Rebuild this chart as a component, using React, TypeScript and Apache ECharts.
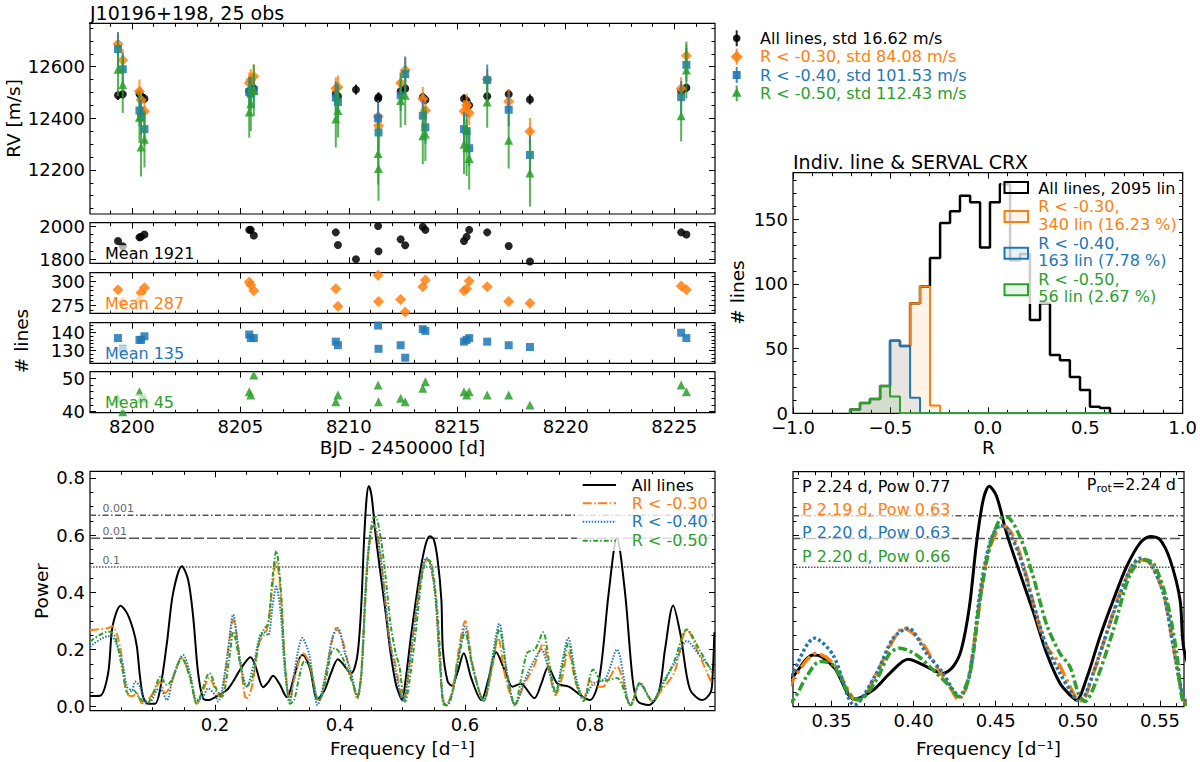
import React, { useEffect, useRef } from 'react';
import * as echarts from 'echarts';

const FONT = 'DejaVu Sans';
const C_ALL = '#000000';
const C_R30 = '#ff7f0e';
const C_R40 = '#1f77b4';
const C_R50 = '#2ca02c';
const GROUP_COLORS = [C_ALL, C_R30, C_R40, C_R50];

// ---------------- Data ----------------
const titleText = 'J10196+198, 25 obs';
const obsBJD = [8199.36, 8199.58, 8200.35, 8200.42, 8200.58, 8205.41, 8205.48, 8205.62, 8209.40, 8209.50, 8210.33, 8211.35, 8211.37, 8212.39, 8212.60, 8213.41, 8213.53, 8215.31, 8215.43, 8215.55, 8216.38, 8217.37, 8218.35, 8225.32, 8225.56];

const rvAll = [12489, 12493, 12495, 12485, 12476, 12505, 12510, 12515, 12495, 12485, 12511, 12476, 12482, 12505, 12515, 12482, 12472, 12476, 12468, 12450, 12485, 12493, 12473, 12505, 12518];
const rvAllErr = [18, 17, 18, 17, 18, 16, 17, 18, 17, 18, 20, 18, 19, 17, 18, 17, 18, 17, 18, 19, 17, 18, 20, 18, 17];
const rvR30 = [12688, 12625, 12505, 12472, 12427, 12537, 12548, 12563, 12515, 12520, null, 12407, 12371, 12537, 12587, 12476, 12430, 12427, 12450, 12420, 12550, 12465, 12349, 12515, 12642];
const rvR30Err = [45, 42, 45, 48, 44, 40, 42, 45, 44, 46, 0, 48, 50, 44, 47, 45, 46, 44, 45, 47, 42, 46, 52, 44, 46];
const rvR40 = [12668, 12590, 12430, 12404, 12358, 12502, 12495, 12508, 12480, 12463, null, 12400, 12345, 12489, 12571, 12410, 12365, 12358, 12350, 12284, 12548, 12433, 12258, 12482, 12607];
const rvR40Err = [65, 62, 60, 68, 64, 58, 60, 62, 62, 64, 0, 70, 72, 60, 68, 62, 64, 65, 66, 70, 60, 64, 75, 62, 65];
const rvR50 = [12590, 12530, 12404, 12289, 12319, 12424, 12456, 12508, 12397, 12430, null, 12263, 12205, 12469, 12489, 12332, 12339, 12299, 12286, 12244, 12463, 12315, 12188, 12410, 12587];
const rvR50Err = [105, 110, 100, 115, 110, 100, 105, 100, 110, 105, 0, 120, 125, 105, 115, 110, 105, 115, 110, 120, 100, 110, 130, 100, 110];
const rvLegendLabels = ['All lines, std 16.62 m/s', 'R < -0.30, std 84.08 m/s', 'R < -0.40, std 101.53 m/s', 'R < -0.50, std 112.43 m/s'];

const nLinesAll = [1910, 1878, 1932, 1935, 1949, 1977, 1977, 1943, 1962, 1886, 1800, 2000, 1848, 1920, 1884, 1996, 1977, 1910, 1935, 1977, 1962, 1880, 1787, 1962, 1949];
const nLinesR30 = [291, 278, 280, 288, 293, 299, 296, 290, 292, 274, null, 306, 279, 281, 268, 294, 301, 290, 292, 300, 294, 279, 277, 295, 291];
const nLinesR40 = [137, 131, 136, 136, 138, 139, 137, 137, 135, 133, null, 144, 131, 133, 126, 142, 141, 135, 136, 137, 135, 133, 132, 140, 137];
const nLinesR50 = [44, 40, 46, 44, 44, 46, 45, 51, 43, 45, null, 48, 43, 44, 43, 47, 49, 46, 45, 46, 45, 45, 42, 48, 46];
const meanLabels = ['Mean 1921', 'Mean 287', 'Mean 135', 'Mean 45'];

const histEdges = [-0.707, -0.656, -0.605, -0.553, -0.502, -0.451, -0.399, -0.348, -0.297, -0.245, -0.194, -0.143, -0.091, -0.040, 0.011, 0.062, 0.114, 0.165, 0.216, 0.268, 0.319, 0.370, 0.421, 0.473, 0.524, 0.575, 0.627];
const histAll = [3, 8, 11, 21, 56, 52, 85, 98, 120, 147, 156, 168, 163, 128, 163, 177, 118, 123, 72, 85, 45, 41, 28, 18, 5, 4];
const histR30 = [3, 8, 11, 21, 56, 52, 85, 98, 6, 0, 0, 0, 0, 0, 0, 0, 0, 0, 0, 0, 0, 0, 0, 0, 0, 0];
const histR40 = [3, 8, 11, 21, 56, 52, 12, 0, 0, 0, 0, 0, 0, 0, 0, 0, 0, 0, 0, 0, 0, 0, 0, 0, 0, 0];
const histR50 = [3, 8, 11, 21, 13, 0, 0, 0, 0, 0, 0, 0, 0, 0, 0, 0, 0, 0, 0, 0, 0, 0, 0, 0, 0, 0];
const histTitle = 'Indiv. line & SERVAL CRX';
const histLegendLabels = ['All lines, 2095 lin', 'R < -0.30,\n340 lin (16.23 %)', 'R < -0.40,\n163 lin (7.78 %)', 'R < -0.50,\n56 lin (2.67 %)'];

const periodAll: [number, number][] = [[0.000, 0.037], [0.016, 0.038], [0.029, 0.117], [0.036, 0.28], [0.049, 0.353], [0.059, 0.328], [0.069, 0.27], [0.075, 0.21], [0.080, 0.105], [0.085, 0.035], [0.093, 0.010], [0.104, 0.010], [0.112, 0.058], [0.123, 0.222], [0.133, 0.398], [0.147, 0.491], [0.157, 0.444], [0.165, 0.316], [0.173, 0.117], [0.181, 0.029], [0.189, 0.023], [0.203, 0.037], [0.219, 0.058], [0.229, 0.088], [0.240, 0.129], [0.257, 0.173], [0.265, 0.140], [0.277, 0.068], [0.285, 0.085], [0.293, 0.108], [0.303, 0.080], [0.315, 0.033], [0.3266, 0.105], [0.3388, 0.181], [0.344, 0.175], [0.352, 0.134], [0.364, 0.026], [0.3754, 0.058], [0.3855, 0.117], [0.3967, 0.166], [0.4038, 0.152], [0.414, 0.123], [0.418, 0.117], [0.424, 0.14], [0.429, 0.199], [0.434, 0.351], [0.4383, 0.573], [0.4424, 0.725], [0.446, 0.772], [0.4505, 0.737], [0.4566, 0.608], [0.4647, 0.468], [0.4728, 0.333], [0.481, 0.187], [0.4891, 0.082], [0.4952, 0.041], [0.4992, 0.023], [0.5053, 0.099], [0.5135, 0.246], [0.5216, 0.374], [0.5297, 0.491], [0.5378, 0.573], [0.5439, 0.596], [0.55, 0.585], [0.5561, 0.515], [0.5622, 0.374], [0.5646, 0.2], [0.572, 0.09], [0.579, 0.073], [0.588, 0.12], [0.598, 0.187], [0.61, 0.1], [0.626, 0.023], [0.638, 0.1], [0.65, 0.19], [0.663, 0.13], [0.676, 0.07], [0.689, 0.08], [0.711, 0.03], [0.722, 0.08], [0.733, 0.138], [0.748, 0.08], [0.766, 0.07], [0.788, 0.035], [0.8, 0.023], [0.815, 0.1], [0.83, 0.4], [0.843, 0.59], [0.856, 0.4], [0.868, 0.1], [0.876, 0.02], [0.894, 0.006], [0.91, 0.05], [0.92, 0.2], [0.933, 0.354], [0.945, 0.25], [0.96, 0.06], [0.98, 0.023], [0.993, 0.05], [0.996, 0.1], [0.999, 0.26]];

const periodR30: [number, number][] = [[0.0, 0.267], [0.029, 0.275], [0.036, 0.281], [0.048, 0.21], [0.056, 0.07], [0.061, 0.041], [0.068, 0.037], [0.075, 0.047], [0.083, 0.012], [0.091, 0.018], [0.104, 0.058], [0.112, 0.088], [0.12, 0.047], [0.128, 0.07], [0.147, 0.17], [0.16, 0.105], [0.171, 0.008], [0.181, 0.058], [0.191, 0.1], [0.203, 0.047], [0.208, 0.035], [0.224, 0.246], [0.229, 0.304], [0.24, 0.164], [0.248, 0.035], [0.252, 0.03], [0.26, 0.08], [0.27, 0.22], [0.283, 0.27], [0.291, 0.4], [0.298, 0.51], [0.305, 0.4], [0.312, 0.15], [0.32, 0.02], [0.3266, 0.094], [0.3409, 0.187], [0.351, 0.152], [0.3632, 0.029], [0.3673, 0.023], [0.3774, 0.117], [0.3876, 0.234], [0.3937, 0.275], [0.4038, 0.234], [0.414, 0.14], [0.4221, 0.07], [0.4272, 0.026], [0.4322, 0.07], [0.4383, 0.281], [0.4444, 0.515], [0.4515, 0.626], [0.4546, 0.634], [0.4607, 0.596], [0.4688, 0.456], [0.4749, 0.316], [0.481, 0.211], [0.4871, 0.164], [0.4932, 0.094], [0.4992, 0.029], [0.5023, 0.021], [0.5094, 0.117], [0.5175, 0.257], [0.5256, 0.398], [0.5338, 0.497], [0.5378, 0.515], [0.5439, 0.503], [0.552, 0.398], [0.5581, 0.211], [0.5646, 0.023], [0.57, 0.005], [0.58, 0.06], [0.59, 0.2], [0.6, 0.3], [0.612, 0.15], [0.63, 0.02], [0.642, 0.12], [0.653, 0.24], [0.665, 0.1], [0.68, 0.01], [0.695, 0.08], [0.71, 0.14], [0.725, 0.22], [0.735, 0.12], [0.745, 0.04], [0.755, 0.1], [0.765, 0.19], [0.778, 0.08], [0.79, 0.03], [0.8, 0.09], [0.812, 0.07], [0.82, 0.07], [0.843, 0.14], [0.865, 0.005], [0.88, 0.08], [0.9, 0.02], [0.915, 0.06], [0.935, 0.12], [0.955, 0.27], [0.975, 0.18], [0.995, 0.08]];

const periodR40: [number, number][] = [[0.0, 0.21], [0.029, 0.246], [0.035, 0.245], [0.051, 0.164], [0.059, 0.07], [0.067, 0.058], [0.072, 0.088], [0.08, 0.07], [0.088, 0.018], [0.096, 0.018], [0.107, 0.058], [0.112, 0.064], [0.123, 0.023], [0.133, 0.105], [0.149, 0.181], [0.16, 0.117], [0.171, 0.023], [0.181, 0.035], [0.189, 0.064], [0.2, 0.041], [0.205, 0.018], [0.219, 0.164], [0.229, 0.322], [0.24, 0.164], [0.251, 0.07], [0.262, 0.15], [0.272, 0.25], [0.278, 0.26], [0.285, 0.25], [0.292, 0.35], [0.298, 0.42], [0.305, 0.33], [0.312, 0.12], [0.32, 0.02], [0.3266, 0.117], [0.3398, 0.24], [0.351, 0.181], [0.364, 0.006], [0.3774, 0.117], [0.3876, 0.24], [0.3967, 0.275], [0.4079, 0.187], [0.418, 0.117], [0.4241, 0.058], [0.4282, 0.035], [0.4343, 0.117], [0.4404, 0.398], [0.4464, 0.573], [0.4525, 0.634], [0.4566, 0.626], [0.4647, 0.526], [0.4728, 0.363], [0.481, 0.211], [0.4891, 0.117], [0.4952, 0.058], [0.5003, 0.021], [0.5033, 0.026], [0.5114, 0.152], [0.5216, 0.327], [0.5317, 0.48], [0.5378, 0.52], [0.5439, 0.503], [0.552, 0.398], [0.5581, 0.211], [0.5646, 0.029], [0.57, 0.005], [0.58, 0.05], [0.59, 0.18], [0.6, 0.28], [0.612, 0.14], [0.63, 0.02], [0.642, 0.15], [0.655, 0.29], [0.667, 0.12], [0.68, 0.005], [0.695, 0.09], [0.71, 0.16], [0.722, 0.2], [0.735, 0.12], [0.745, 0.05], [0.755, 0.15], [0.765, 0.24], [0.778, 0.1], [0.79, 0.03], [0.805, 0.08], [0.825, 0.1], [0.843, 0.2], [0.865, 0.005], [0.88, 0.08], [0.9, 0.02], [0.915, 0.08], [0.935, 0.15], [0.955, 0.23], [0.975, 0.18], [0.995, 0.13]];

const periodR50: [number, number][] = [[0.0, 0.228], [0.03, 0.263], [0.04, 0.245], [0.053, 0.117], [0.061, 0.047], [0.069, 0.058], [0.08, 0.029], [0.091, 0.01], [0.101, 0.047], [0.113, 0.105], [0.123, 0.076], [0.131, 0.094], [0.147, 0.17], [0.16, 0.1], [0.171, 0.01], [0.177, 0.04], [0.191, 0.117], [0.203, 0.058], [0.211, 0.035], [0.224, 0.187], [0.229, 0.263], [0.24, 0.152], [0.25, 0.07], [0.26, 0.1], [0.27, 0.22], [0.278, 0.27], [0.285, 0.29], [0.292, 0.45], [0.298, 0.545], [0.305, 0.42], [0.312, 0.15], [0.32, 0.01], [0.3266, 0.023], [0.3348, 0.105], [0.3429, 0.158], [0.351, 0.146], [0.3632, 0.029], [0.3673, 0.026], [0.3774, 0.094], [0.3855, 0.187], [0.3916, 0.205], [0.4018, 0.181], [0.414, 0.117], [0.4221, 0.07], [0.4272, 0.035], [0.4343, 0.117], [0.4404, 0.374], [0.4464, 0.561], [0.4525, 0.657], [0.4566, 0.664], [0.4647, 0.596], [0.4728, 0.456], [0.481, 0.287], [0.4891, 0.187], [0.4952, 0.14], [0.5003, 0.047], [0.5043, 0.018], [0.5114, 0.094], [0.5216, 0.269], [0.5317, 0.462], [0.5399, 0.515], [0.546, 0.503], [0.5541, 0.374], [0.5602, 0.187], [0.5646, 0.012], [0.572, 0.005], [0.58, 0.05], [0.59, 0.17], [0.6, 0.26], [0.612, 0.14], [0.63, 0.02], [0.642, 0.13], [0.655, 0.27], [0.667, 0.12], [0.68, 0.005], [0.69, 0.1], [0.7, 0.19], [0.712, 0.2], [0.725, 0.26], [0.735, 0.15], [0.745, 0.05], [0.755, 0.13], [0.765, 0.22], [0.778, 0.08], [0.79, 0.02], [0.805, 0.13], [0.82, 0.09], [0.843, 0.1], [0.865, 0.005], [0.88, 0.085], [0.9, 0.02], [0.915, 0.07], [0.935, 0.16], [0.955, 0.27], [0.975, 0.2], [0.995, 0.12]];

const periodLegendLabels = ['All lines', 'R < -0.30', 'R < -0.40', 'R < -0.50'];
const fapLevels = [0.669, 0.589, 0.488];
const fapLabels = ['0.001', '0.01', '0.1'];
const peakLabels = ['P 2.24 d, Pow 0.77', 'P 2.19 d, Pow 0.63', 'P 2.20 d, Pow 0.63', 'P 2.20 d, Pow 0.66'];
const protValue = '=2.24 d';

// ---------------- Helpers ----------------
const range = (a: number, b: number, step: number) => {
  const out: number[] = [];
  for (let k = 0; a + k * step <= b + 1e-9; k++) out.push(Math.round((a + k * step) * 1e6) / 1e6);
  return out;
};
const without = (vals: number[], majors: number[]) => vals.filter((v) => !majors.some((m) => Math.abs(m - v) < 1e-9));
const stepPoints = (edges: number[], counts: number[]) => {
  const pts: number[][] = [[edges[0], 0]];
  counts.forEach((c, i) => {
    pts.push([edges[i], c]);
    pts.push([edges[i + 1], c]);
  });
  pts.push([edges[edges.length - 1], 0]);
  return pts;
};

function buildOption() {
  const gridBoxes = [
    { left: 90, top: 23.3, width: 625, height: 190.7 },
    { left: 90, top: 222.7, width: 625, height: 40.6 },
    { left: 90, top: 272.7, width: 625, height: 40.6 },
    { left: 90, top: 322.7, width: 625, height: 40.6 },
    { left: 90, top: 371.7, width: 625, height: 41 },
    { left: 793, top: 172.7, width: 391, height: 240.6 },
    { left: 90, top: 471.3, width: 625, height: 239.4 },
    { left: 793, top: 471.7, width: 391, height: 235 },
  ];
  const grid = gridBoxes.map((g) => ({ ...g, show: true, borderColor: '#000', borderWidth: 1.2, backgroundColor: 'transparent', containLabel: false, z: 0 }));

  const xAxis: any[] = [];
  const yAxis: any[] = [];
  const addAxes = (list: any[], kind: 'x' | 'y', gridIndex: number, min: number, max: number, majors: number[], minors: number[], fmt: ((v: number) => string) | null) => {
    const idx = list.length;
    const mainPos = kind === 'x' ? 'bottom' : 'left';
    const oppPos = kind === 'x' ? 'top' : 'right';
    const mk = (position: string, vals: number[], len: number, withLabel: boolean) => ({
      type: 'value', gridIndex, min, max, position, offset: 0,
      splitLine: { show: false },
      axisLine: { show: false, onZero: false },
      axisTick: { show: vals.length > 0, inside: true, length: len, customValues: vals, lineStyle: { color: '#000', width: 1 } },
      axisLabel: withLabel && fmt
        ? { show: true, customValues: majors, formatter: (v: number) => fmt(v), fontFamily: FONT, fontSize: 18, color: '#000', margin: 5 }
        : { show: false },
    });
    list.push(mk(mainPos, majors, 6, true), mk(oppPos, majors, 6, false), mk(mainPos, minors, 3.5, false), mk(oppPos, minors, 3.5, false));
    return idx;
  };
  const fmtInt = (v: number) => String(Math.round(v));
  const fmt1 = (v: number) => v.toFixed(1).replace('-', '\u2212');
  const fmt2 = (v: number) => v.toFixed(2);

  const bjdMin = 8198.07, bjdMax = 8226.88;
  const bjdMaj = range(8200, 8225, 5);
  const bjdMinor = without(range(8199, 8226, 1), bjdMaj);

  const yRanges = [
    { min: 12029, max: 12768, maj: [12200, 12400, 12600], minor: without(range(12050, 12750, 50), [12200, 12400, 12600]) },
    { min: 1776, max: 2020, maj: [1800, 2000], minor: [1850, 1900, 1950] },
    { min: 266.7, max: 308.6, maj: [275, 300], minor: [270, 280, 285, 290, 295, 305] },
    { min: 122.9, max: 145.6, maj: [130, 140], minor: [124, 126, 128, 132, 134, 136, 138, 142, 144] },
    { min: 39.7, max: 52, maj: [40, 50], minor: [42, 44, 46, 48] },
  ];
  const ax: { x: number; y: number }[] = [];
  for (let g = 0; g < 5; g++) {
    const xi = addAxes(xAxis, 'x', g, bjdMin, bjdMax, bjdMaj, bjdMinor, g === 4 ? fmtInt : null);
    const r = yRanges[g];
    const yi = addAxes(yAxis, 'y', g, r.min, r.max, r.maj, r.minor, fmtInt);
    ax.push({ x: xi, y: yi });
  }
  // histogram
  {
    const xm = [-1, -0.5, 0, 0.5, 1];
    const xi = addAxes(xAxis, 'x', 5, -1, 1, xm, without(range(-0.9, 0.9, 0.1), xm), fmt1);
    const ym = [0, 50, 100, 150];
    const yi = addAxes(yAxis, 'y', 5, 0, 185.85, ym, without(range(10, 180, 10), ym), fmtInt);
    ax.push({ x: xi, y: yi });
  }
  // periodogram left
  {
    const xm = [0.2, 0.4, 0.6, 0.8];
    const xi = addAxes(xAxis, 'x', 6, 0, 1, xm, without(range(0.05, 0.95, 0.05), xm), fmt1);
    const ym = [0, 0.2, 0.4, 0.6, 0.8];
    const yi = addAxes(yAxis, 'y', 6, -0.014, 0.823, ym, without(range(0.05, 0.8, 0.05), ym), fmt1);
    ax.push({ x: xi, y: yi });
  }
  // periodogram right
  {
    const xm = [0.35, 0.4, 0.45, 0.5, 0.55];
    const xi = addAxes(xAxis, 'x', 7, 0.3266, 0.5646, xm, without(range(0.33, 0.56, 0.01), xm), fmt2);
    const ym = [0, 0.2, 0.4, 0.6, 0.8];
    const yi = addAxes(yAxis, 'y', 7, 0, 0.823, ym, without(range(0.05, 0.8, 0.05), ym), null);
    ax.push({ x: xi, y: yi });
  }

  const series: any[] = [];
  // RV panel
  const rvGroups = [
    { v: rvAll, e: rvAllErr, symbol: 'circle', size: 8 },
    { v: rvR30, e: rvR30Err, symbol: 'diamond', size: 11 },
    { v: rvR40, e: rvR40Err, symbol: 'rect', size: 8 },
    { v: rvR50, e: rvR50Err, symbol: 'triangle', size: 9 },
  ];
  rvGroups.forEach((g, gi) => {
    const color = GROUP_COLORS[gi];
    const pts = obsBJD.map((t, i) => (g.v[i] == null ? null : [t, g.v[i], g.e[i]])).filter((p) => p) as number[][];
    series.push({
      type: 'custom', xAxisIndex: ax[0].x, yAxisIndex: ax[0].y, data: pts, encode: { x: 0, y: 1 }, clip: true, silent: true, z: 2 + gi,
      renderItem: (_p: any, api: any) => {
        const x = api.value(0), y = api.value(1), e = api.value(2);
        const a = api.coord([x, y - e]);
        const b = api.coord([x, y + e]);
        return { type: 'line', shape: { x1: a[0], y1: a[1], x2: b[0], y2: b[1] }, style: { stroke: color, lineWidth: 2, opacity: 0.8 } };
      },
    });
    series.push({
      type: 'scatter', xAxisIndex: ax[0].x, yAxisIndex: ax[0].y, data: pts.map((p) => [p[0], p[1]]), symbol: g.symbol, symbolSize: g.size, z: 2 + gi,
      itemStyle: { color, opacity: 0.85 }, silent: true,
    });
  });
  // #lines panels
  const nGroups = [
    { v: nLinesAll, symbol: 'circle', size: 8 },
    { v: nLinesR30, symbol: 'diamond', size: 11 },
    { v: nLinesR40, symbol: 'rect', size: 8 },
    { v: nLinesR50, symbol: 'triangle', size: 9 },
  ];
  nGroups.forEach((g, gi) => {
    const pts = obsBJD.map((t, i) => (g.v[i] == null ? null : [t, g.v[i]])).filter((p) => p);
    series.push({
      type: 'scatter', xAxisIndex: ax[gi + 1].x, yAxisIndex: ax[gi + 1].y, data: pts, symbol: g.symbol, symbolSize: g.size,
      itemStyle: { color: GROUP_COLORS[gi], opacity: 0.85 }, silent: true, clip: true,
    });
  });
  // histogram
  [histAll, histR30, histR40, histR50].forEach((h, gi) => {
    series.push({
      type: 'line', xAxisIndex: ax[5].x, yAxisIndex: ax[5].y, data: stepPoints(histEdges, h), showSymbol: false, symbol: 'none', silent: true,
      lineStyle: { color: GROUP_COLORS[gi], width: gi === 0 ? 2.5 : 2 },
      areaStyle: gi === 0 ? undefined : { color: GROUP_COLORS[gi], opacity: 0.1 },
      z: 2 + gi,
    });
  });
  // periodograms
  const fapDashL: any[] = [[6, 2.5, 1.5, 2.5], [10, 3], [1.5, 1.5]];
  const perio = [
    { d: periodAll, dashL: 'solid', dashR: 'solid', wL: 2, wR: 3 },
    { d: periodR30, dashL: [9, 2.5, 1.5, 2.5], dashR: [14, 4, 3, 4], wL: 2, wR: 3.5 },
    { d: periodR40, dashL: [1.5, 1.5], dashR: [3, 2.5], wL: 2, wR: 3.5 },
    { d: periodR50, dashL: [5, 2, 1.5, 2], dashR: [9, 3, 3, 3], wL: 2, wR: 3.5 },
  ];
  [6, 7].forEach((gIdx) => {
    const a = ax[gIdx];
    const xr = gIdx === 6 ? [0, 1] : [0.3266, 0.5646];
    fapLevels.forEach((lv, i) => {
      series.push({
        type: 'line', xAxisIndex: a.x, yAxisIndex: a.y, data: [[xr[0], lv], [xr[1], lv]], showSymbol: false, symbol: 'none', silent: true,
        lineStyle: { color: '#555', width: 1.5, type: fapDashL[i] }, z: 1,
      });
    });
    perio.forEach((p, gi) => {
      series.push({
        type: 'line', xAxisIndex: a.x, yAxisIndex: a.y, data: p.d, showSymbol: false, symbol: 'none', smooth: 0.3, silent: true, clip: true,
        lineStyle: { color: GROUP_COLORS[gi], width: gIdx === 6 ? p.wL : p.wR, type: gIdx === 6 ? p.dashL : p.dashR },
        z: 2 + gi,
      });
    });
  });

  // ---------- graphics ----------
  const el: any[] = [];
  let gid = 0;
  const text = (t: string, x: number, y: number, opts: any = {}) => {
    const { rotation, ...style } = opts;
    el.push({
      type: 'text', id: 't' + gid++, x, y, rotation: rotation || 0, z: 100,
      style: { text: t, fill: '#000', fontSize: 18, fontFamily: FONT, align: 'left', verticalAlign: 'middle', ...style },
    });
  };
  text(titleText, 90, 12.7, { fontSize: 19 });
  text('RV [m/s]', 13, 118.5, { rotation: Math.PI / 2, align: 'center', fontSize: 18.5 });
  text('# lines', 21, 341, { rotation: Math.PI / 2, align: 'center', fontSize: 18.5 });
  text('BJD - 2450000 [d]', 402.5, 447, { align: 'center', fontSize: 18.5 });
  text(histTitle, 793, 161.7, { fontSize: 19 });
  text('R', 988.5, 447, { align: 'center', fontSize: 18.5 });
  text('# lines', 737, 292.5, { rotation: Math.PI / 2, align: 'center', fontSize: 18.5 });
  text('Power', 41.7, 591, { rotation: Math.PI / 2, align: 'center', fontSize: 18.5 });
  text('Frequency [d\u207B\u00B9]', 402.5, 748, { align: 'center', fontSize: 18.5 });
  text('Frequency [d\u207B\u00B9]', 988.5, 748, { align: 'center', fontSize: 18.5 });

  // RV legend
  rvLegendLabels.forEach((lab, i) => {
    const y = 38.3 + i * 18.35;
    const cx = 736.7;
    const color = GROUP_COLORS[i];
    el.push({ type: 'line', id: 'rl' + i, z: 100, shape: { x1: cx, y1: y - 8, x2: cx, y2: y + 8 }, style: { stroke: color, lineWidth: 2, opacity: 0.85 } });
    let m: any;
    if (i === 0) m = { type: 'circle', shape: { cx, cy: y, r: 3.8 } };
    else if (i === 1) m = { type: 'polygon', shape: { points: [[cx, y - 6], [cx + 6, y], [cx, y + 6], [cx - 6, y]] } };
    else if (i === 2) m = { type: 'rect', shape: { x: cx - 4, y: y - 4, width: 8, height: 8 } };
    else m = { type: 'polygon', shape: { points: [[cx, y - 5.5], [cx + 4.8, y + 3.5], [cx - 4.8, y + 3.5]] } };
    el.push({ ...m, id: 'rm' + i, z: 101, style: { fill: color, opacity: 0.9 } });
    text(lab, 760, y, { fill: color, fontSize: 16 });
  });

  // Mean labels
  const meanY = [253.3, 303.3, 353.3, 402.3];
  meanLabels.forEach((lab, i) => {
    text(lab, 103, meanY[i], { fill: GROUP_COLORS[i], fontSize: 16, backgroundColor: 'rgba(255,255,255,0.65)', padding: [0, 2, 0, 2] });
  });

  // Histogram legend
  el.push({ type: 'rect', id: 'hbg', z: 99, shape: { x: 1001, y: 177, width: 178, height: 127 }, style: { fill: 'rgba(255,255,255,0.8)' } });
  const hBoxY = [182, 211, 247.7, 284.3];
  const hTextY = [188, 215.3, 251.7, 288];
  histLegendLabels.forEach((lab, i) => {
    const color = GROUP_COLORS[i];
    el.push({
      type: 'rect', id: 'hb' + i, z: 100, shape: { x: 1004.5, y: hBoxY[i], width: 23.5, height: 11 },
      style: { fill: i === 0 ? 'rgba(255,255,255,0)' : echarts.color.modifyAlpha(color, 0.1), stroke: color, lineWidth: 2 },
    });
    text(lab, 1038.3, hTextY[i], { fill: color, fontSize: 16, lineHeight: 17.4 });
  });

  // Left periodogram legend
  el.push({ type: 'rect', id: 'pbg', z: 99, shape: { x: 577, y: 474, width: 135, height: 77 }, style: { fill: 'rgba(255,255,255,0.8)' } });
  const pRowY = [485, 503.3, 521.7, 540.7];
  periodLegendLabels.forEach((lab, i) => {
    el.push({
      type: 'line', id: 'pl' + i, z: 100, shape: { x1: 582.7, y1: pRowY[i], x2: 616, y2: pRowY[i] },
      style: { stroke: GROUP_COLORS[i], lineWidth: 2, lineDash: perio[i].dashL === 'solid' ? null : perio[i].dashL },
    });
    text(lab, 631.7, pRowY[i], { fill: GROUP_COLORS[i], fontSize: 16 });
  });

  // Right periodogram peak labels
  const pkY = [486, 509.3, 532.7, 556];
  peakLabels.forEach((lab, i) => {
    text(lab, 800, pkY[i], { fill: GROUP_COLORS[i], fontSize: 16, backgroundColor: 'rgba(255,255,255,0.65)', padding: [1, 2, 1, 2] });
  });
  el.push({
    type: 'text', id: 'prot', z: 100, x: 1176, y: 484,
    style: {
      text: '{a|P}{b|rot}{a|' + protValue + '}', align: 'right', verticalAlign: 'middle', fontFamily: FONT, fill: '#000',
      rich: { a: { fontSize: 16, fontFamily: FONT, lineHeight: 20, verticalAlign: 'middle' }, b: { fontSize: 11, fontFamily: FONT, lineHeight: 20, verticalAlign: 'bottom', padding: [6, 0, 0, 0] } },
    },
  });

  return {
    option: {
      animation: false,
      backgroundColor: '#ffffff',
      textStyle: { fontFamily: FONT },
      grid, xAxis, yAxis, series,
      graphic: { elements: el },
    },
    ax,
    el,
  };
}

export default function App() {
  const ref = useRef<HTMLDivElement>(null);
  useEffect(() => {
    if (!ref.current) return;
    const chart = echarts.init(ref.current, null, { renderer: 'svg' });
    const { option, ax, el } = buildOption();
    chart.setOption(option as any);
    const a = ax[6];
    const labels = fapLevels.map((lv, i) => {
      const p = chart.convertToPixel({ xAxisIndex: a.x, yAxisIndex: a.y } as any, [0.02, lv]) as number[];
      return {
        type: 'text', id: 'fap' + i, x: p[0], y: p[1] - 1, z: 100,
        style: { text: fapLabels[i], fill: '#666', fontSize: 11, fontFamily: FONT, align: 'left', verticalAlign: 'bottom' },
      };
    });
    const full = { ...option, graphic: { elements: [...el, ...labels] } };
    chart.setOption(full as any, true);
    return () => chart.dispose();
  }, []);
  return <div ref={ref} style={{ position: 'fixed', left: 0, top: 0, width: 1200, height: 762 }} />;
}
